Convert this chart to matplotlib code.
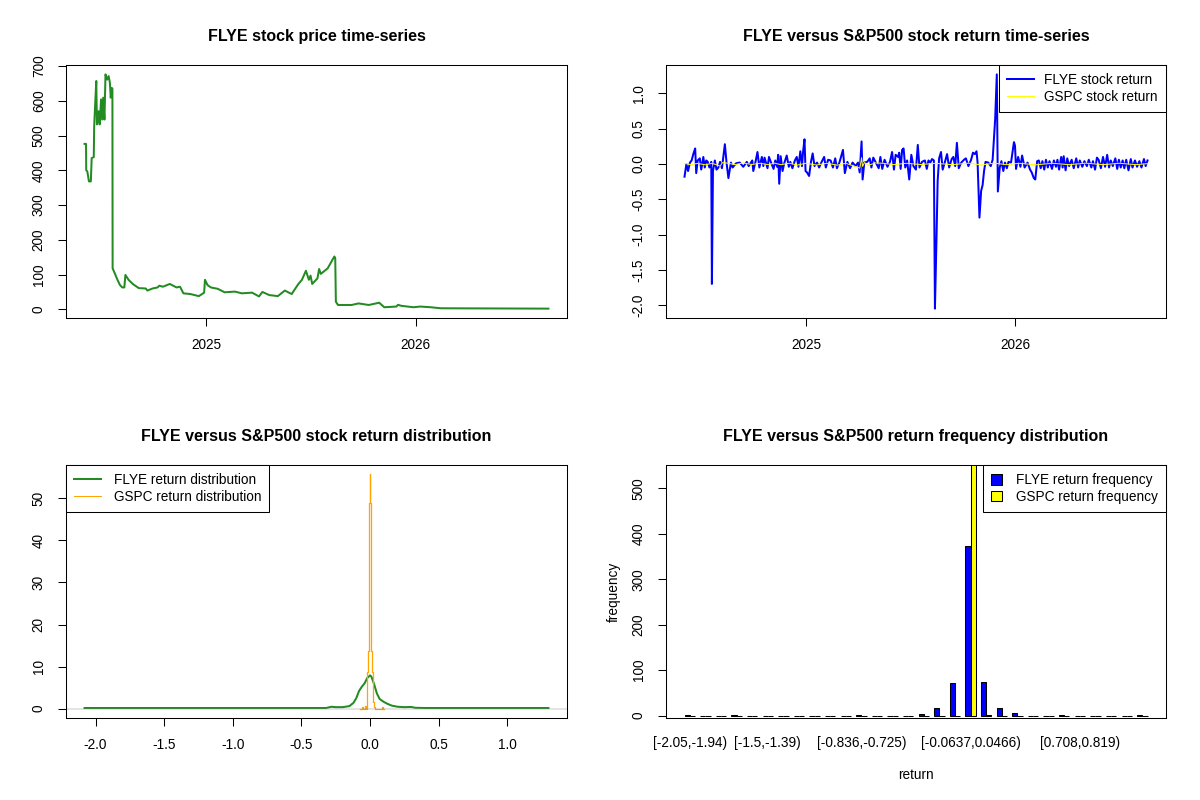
import numpy as np
import matplotlib
matplotlib.use("Agg")
import matplotlib.pyplot as plt
from matplotlib.patches import Patch
from matplotlib.lines import Line2D

plt.rcParams.update({
    "font.family": ["Liberation Sans", "DejaVu Sans"],
    "font.size": 9.8,
    "axes.linewidth": 0.75,
    "axes.unicode_minus": False,
    "xtick.major.size": 6,
    "ytick.major.size": 6,
    "xtick.major.width": 0.75,
    "ytick.major.width": 0.75,
    "xtick.major.pad": 8.5,
    "ytick.major.pad": 8.5,
    "xtick.labelsize": 9.8,
    "ytick.labelsize": 9.8,
})

# ---- FLYE price (decimal year, USD) ----
price_t = [2024.418, 2024.425, 2024.426, 2024.431, 2024.439, 2024.448, 2024.452, 2024.462,
           2024.464, 2024.469, 2024.474, 2024.477, 2024.485, 2024.490, 2024.497, 2024.502,
           2024.507, 2024.513, 2024.518, 2024.526, 2024.533, 2024.539, 2024.543, 2024.548,
           2024.551, 2024.552, 2024.562, 2024.575, 2024.587, 2024.598, 2024.608, 2024.613,
           2024.628, 2024.648, 2024.677, 2024.710, 2024.718, 2024.743, 2024.767, 2024.775,
           2024.792, 2024.825, 2024.857, 2024.874, 2024.890, 2024.923, 2024.964, 2024.989,
           2024.993, 2025.005, 2025.021, 2025.054, 2025.087, 2025.136, 2025.169, 2025.218,
           2025.251, 2025.267, 2025.300, 2025.341, 2025.374, 2025.407, 2025.439, 2025.456,
           2025.475, 2025.489, 2025.497, 2025.505, 2025.530, 2025.538, 2025.546, 2025.579,
           2025.603, 2025.611, 2025.615, 2025.618, 2025.628, 2025.693, 2025.726, 2025.775,
           2025.825, 2025.849, 2025.907, 2025.915, 2025.931, 2025.989, 2026.021, 2026.070,
           2026.120, 2026.633]
price_v = [476, 476, 400, 397, 368, 368, 435, 438,
           527, 594, 657, 532, 570, 532, 604, 546,
           609, 546, 676, 661, 671, 652, 609, 637,
           635, 118, 104, 85, 70, 63, 63, 99,
           85, 73, 61, 60, 54, 60, 63, 68,
           65, 73, 63, 65, 46, 44, 38, 48,
           85, 70, 63, 59, 49, 51, 46, 48,
           37, 50, 41, 38, 54, 44, 73, 85,
           111, 85, 97, 73, 89, 116, 102, 118,
           144, 152, 147, 22, 12.5, 12.5, 17, 12.5,
           19, 6, 8, 13, 10, 6, 8, 6,
           3, 2]

# ---- FLYE daily log returns ----
ret_t = [2024.419, 2024.428, 2024.436, 2024.445, 2024.453, 2024.462, 2024.470, 2024.475,
         2024.482, 2024.492, 2024.499, 2024.509, 2024.516, 2024.523, 2024.530, 2024.538,
         2024.547, 2024.550, 2024.555, 2024.564, 2024.572, 2024.581, 2024.589, 2024.598,
         2024.612, 2024.620, 2024.629, 2024.641, 2024.649, 2024.666, 2024.683, 2024.700,
         2024.717, 2024.726, 2024.743, 2024.748, 2024.760, 2024.768, 2024.777, 2024.789,
         2024.796, 2024.802, 2024.816, 2024.823, 2024.833, 2024.845, 2024.853, 2024.862,
         2024.867, 2024.872, 2024.879, 2024.888, 2024.896, 2024.908, 2024.918, 2024.925,
         2024.935, 2024.947, 2024.956, 2024.964, 2024.973, 2024.981, 2024.986, 2024.993,
         2024.998, 2025.005, 2025.015, 2025.024, 2025.032, 2025.041, 2025.053, 2025.063,
         2025.075, 2025.087, 2025.095, 2025.106, 2025.118, 2025.129, 2025.140, 2025.148,
         2025.160, 2025.177, 2025.186, 2025.198, 2025.211, 2025.223, 2025.237, 2025.249,
         2025.257, 2025.266, 2025.271, 2025.279, 2025.293, 2025.305, 2025.313, 2025.322,
         2025.334, 2025.348, 2025.356, 2025.365, 2025.376, 2025.390, 2025.402, 2025.412,
         2025.421, 2025.429, 2025.441, 2025.446, 2025.453, 2025.460, 2025.467, 2025.475,
         2025.484, 2025.494, 2025.504, 2025.514, 2025.526, 2025.535, 2025.543, 2025.555,
         2025.569, 2025.578, 2025.586, 2025.595, 2025.603, 2025.612, 2025.617, 2025.624,
         2025.630, 2025.637, 2025.646, 2025.654, 2025.664, 2025.675, 2025.685, 2025.697,
         2025.705, 2025.714, 2025.722, 2025.731, 2025.743, 2025.756, 2025.765, 2025.777,
         2025.790, 2025.799, 2025.808, 2025.816, 2025.821, 2025.830, 2025.838, 2025.845,
         2025.852, 2025.859, 2025.872, 2025.884, 2025.893, 2025.905, 2025.913, 2025.918,
         2025.927, 2025.935, 2025.944, 2025.952, 2025.961, 2025.969, 2025.981, 2025.995,
         2026.000, 2026.005, 2026.015, 2026.026, 2026.034, 2026.046, 2026.060, 2026.072,
         2026.080, 2026.090, 2026.097, 2026.106, 2026.114, 2026.123, 2026.131, 2026.140,
         2026.148, 2026.157, 2026.165, 2026.177, 2026.186, 2026.196, 2026.203, 2026.211,
         2026.221, 2026.228, 2026.233, 2026.242, 2026.250, 2026.259, 2026.271, 2026.281,
         2026.293, 2026.302, 2026.310, 2026.322, 2026.332, 2026.344, 2026.353, 2026.365,
         2026.373, 2026.383, 2026.392, 2026.400, 2026.411, 2026.421, 2026.431, 2026.441,
         2026.450, 2026.458, 2026.468, 2026.480, 2026.489, 2026.497, 2026.506, 2026.515,
         2026.523, 2026.532, 2026.543, 2026.554, 2026.562, 2026.574, 2026.584, 2026.595,
         2026.605, 2026.617, 2026.625, 2026.634]
ret_v = [-0.18, 0.00, -0.10, 0.02, 0.05, 0.15, 0.22, -0.13,
         0.05, 0.08, -0.08, 0.10, -0.05, 0.05, 0.03, -0.05,
         0.03, -1.70, -0.10, 0.05, -0.08, -0.05, 0.03, -0.06,
         0.28, 0.02, -0.20, 0.02, -0.05, 0.01, 0.02, -0.04,
         0.03, -0.03, 0.05, -0.10, 0.05, 0.17, -0.05, 0.10,
         -0.03, 0.09, -0.06, 0.10, 0.02, -0.07, 0.05, -0.04,
         0.13, -0.28, 0.11, -0.10, 0.01, 0.12, -0.04, 0.03,
         -0.06, 0.05, 0.10, -0.04, 0.18, -0.03, 0.17, 0.35,
         -0.10, -0.12, -0.17, 0.03, 0.15, -0.03, 0.02, -0.05,
         0.03, 0.10, -0.05, 0.06, 0.05, -0.05, 0.08, -0.06,
         0.02, 0.20, -0.13, 0.03, -0.06, 0.02, -0.03, 0.02,
         -0.12, 0.32, -0.22, 0.02, 0.03, 0.08, -0.05, 0.09,
         0.02, -0.06, 0.10, -0.07, 0.06, -0.04, 0.03, 0.17,
         -0.08, 0.13, 0.10, 0.16, -0.07, 0.20, 0.22, -0.05,
         0.05, -0.22, 0.13, -0.03, -0.08, 0.27, -0.05, 0.03,
         0.05, -0.07, 0.05, 0.02, 0.07, 0.05, -2.05, -1.12,
         -0.24, 0.08, 0.17, -0.08, 0.02, 0.14, -0.05, 0.07,
         0.10, -0.03, 0.30, -0.06, 0.02, 0.06, 0.08, -0.03,
         0.06, 0.16, 0.14, 0.18, 0.02, -0.76, -0.38, -0.30,
         -0.10, 0.03, 0.02, -0.03, 0.06, 0.63, 1.27, -0.39,
         -0.05, 0.04, -0.10, 0.02, -0.06, 0.03, 0.02, 0.31,
         0.26, -0.07, 0.10, -0.04, 0.12, -0.05, 0.02, -0.08,
         -0.12, -0.20, -0.22, 0.04, 0.05, -0.06, 0.04, -0.08,
         0.06, -0.05, 0.04, -0.07, 0.05, -0.04, 0.06, -0.08,
         0.10, -0.05, 0.11, -0.09, 0.08, -0.03, 0.06, -0.06,
         0.08, -0.05, 0.05, -0.04, 0.04, -0.03, 0.06, -0.05,
         0.04, -0.08, 0.09, 0.06, -0.06, 0.10, -0.04, 0.13,
         -0.05, 0.05, -0.03, 0.08, -0.07, 0.06, -0.05, 0.05,
         -0.06, 0.06, -0.09, 0.07, -0.05, 0.05, -0.04, 0.04,
         -0.05, 0.07, -0.03, 0.05]

# ---- S&P500 (GSPC) daily log returns ----
gspc_t = [2024.419, 2024.450, 2024.480, 2024.520, 2024.550, 2024.590, 2024.600, 2024.630,
          2024.660, 2024.700, 2024.740, 2024.780, 2024.820, 2024.850, 2024.880, 2024.920,
          2024.960, 2025.000, 2025.050, 2025.100, 2025.150, 2025.190, 2025.220, 2025.250,
          2025.257, 2025.262, 2025.266, 2025.271, 2025.280, 2025.300, 2025.330, 2025.370,
          2025.420, 2025.480, 2025.550, 2025.620, 2025.700, 2025.780, 2025.840, 2025.900,
          2025.960, 2026.020, 2026.100, 2026.180, 2026.260, 2026.340, 2026.420, 2026.500,
          2026.580, 2026.634]
gspc_v = [0.010, -0.010, 0.008, -0.012, 0.010, -0.030, 0.020, 0.010,
          -0.010, 0.015, -0.008, 0.010, -0.010, 0.012, -0.010, 0.010,
          -0.015, 0.010, -0.015, 0.010, -0.017, 0.010, -0.020, -0.050,
          -0.060, 0.010, 0.090, -0.035, 0.020, -0.020, 0.015, 0.010,
          -0.010, 0.010, -0.008, 0.010, -0.010, 0.012, -0.015, 0.012,
          -0.010, 0.010, -0.012, 0.010, -0.010, 0.012, -0.010, 0.010,
          -0.010, 0.005]

# ---- kernel density of returns ----
flye_dens_x = [-2.08, -0.32, -0.28, -0.25, -0.20, -0.15, -0.12, -0.10, -0.08, -0.06, -0.04,
               -0.02, 0.00, 0.01, 0.03, 0.05, 0.07, 0.10, 0.13, 0.16, 0.20, 0.25, 0.30,
               0.33, 0.40, 1.30]
flye_dens_y = [0.15, 0.15, 0.45, 0.35, 0.35, 0.6, 1.4, 2.5, 4.2, 5.2, 6.0,
               7.3, 7.9, 7.6, 5.8, 3.6, 2.3, 1.6, 1.1, 0.7, 0.45, 0.35, 0.4,
               0.2, 0.15, 0.15]
gspc_dens_x = [-0.075, -0.058, -0.052, -0.035, -0.030, -0.025, -0.021, -0.014, -0.008,
               -0.002, 0.002, 0.008, 0.014, 0.021, 0.027, 0.035, 0.085, 0.092, 0.100]
gspc_dens_y = [0.0, 0.5, 0.0, 0.6, 0.0, 1.5, 8.6, 13.7, 49.0,
               55.7, 49.0, 13.7, 8.6, 1.5, 0.3, 0.0, 0.5, 0.0, 0.0]

# ---- histogram counts (30 bins) ----
flye_counts = [2, 0, 0, 2, 0, 0, 0, 0, 0, 0, 0, 2, 0, 0, 0, 3, 17, 71, 373, 74,
               17, 7, 0, 0, 1, 0, 0, 0, 0, 1]
gspc_counts = [0, 0, 0, 0, 0, 0, 0, 0, 0, 0, 0, 0, 0, 0, 0, 0, 0, 0, 559, 2,
               0, 0, 0, 0, 0, 0, 0, 0, 0, 0]
bin_label_idx = [1, 6, 12, 19, 26]
bin_labels = ["[-2.05,-1.94)", "[-1.5,-1.39)", "[-0.836,-0.725)", "[-0.0637,0.0466)",
              "[0.708,0.819)"]

px = 0.72  # one R pixel in points at 100 dpi
fig = plt.figure(figsize=(12, 8), dpi=100)
ax1 = fig.add_axes([0.055, 0.6025, 0.4175, 0.31625])
ax2 = fig.add_axes([0.555, 0.6025, 0.4167, 0.31625])
ax3 = fig.add_axes([0.055, 0.1025, 0.4175, 0.31625])
ax4 = fig.add_axes([0.555, 0.1025, 0.4167, 0.31625])


def r_style(ax):
    ax.tick_params(top=False, right=False, direction="out")
    ax.tick_params(axis="y", labelrotation=90)
    for lab in ax.get_yticklabels():
        lab.set_va("center")
    for s in ax.spines.values():
        s.set_linewidth(0.75)


def r_legend(ax, handles, labels, loc, **kw):
    opts = dict(borderpad=0.6, labelspacing=0.2, handletextpad=0.75)
    opts.update(kw)
    leg = ax.legend(handles, labels, loc=loc, borderaxespad=0, fancybox=False,
                    framealpha=1, edgecolor="black", fontsize=9.8, **opts)
    leg.get_frame().set_linewidth(0.75)
    return leg


title_kw = dict(fontsize=11.5, fontweight="bold", pad=17)

# top-left: price
ax1.plot(price_t, price_v, color="forestgreen", lw=2 * px)
ax1.margins(x=0.04, y=0.04)
ax1.set_xticks([2025, 2026])
ax1.set_xticklabels(["2025", "2026"])
ax1.set_yticks(range(0, 701, 100))
ax1.set_title("FLYE stock price time-series", **title_kw)
r_style(ax1)

# top-right: returns
ax2.plot(ret_t, ret_v, color="blue", lw=2 * px)
ax2.plot(gspc_t, gspc_v, color="yellow", lw=1 * px)
ax2.margins(x=0.04, y=0.04)
ax2.set_xticks([2025, 2026])
ax2.set_xticklabels(["2025", "2026"])
ax2.set_yticks(np.arange(-2.0, 1.01, 0.5))
ax2.set_yticklabels([f"{v:.1f}" for v in np.arange(-2.0, 1.01, 0.5)])
ax2.set_title("FLYE versus S&P500 stock return time-series", **title_kw)
r_legend(ax2, [Line2D([], [], color="blue", lw=2 * px),
               Line2D([], [], color="yellow", lw=1 * px)],
         ["FLYE stock return", "GSPC stock return"], "upper right", handlelength=2.0)
r_style(ax2)

# bottom-left: densities
ax3.plot(flye_dens_x, flye_dens_y, color="forestgreen", lw=2 * px)
ax3.step(gspc_dens_x, gspc_dens_y, where="post", color="orange", lw=0.9)
ax3.margins(x=0.04, y=0.04)
ax3.axhline(0, color="gray", lw=0.3)
ax3.set_xticks(np.arange(-2.0, 1.01, 0.5))
ax3.set_xticklabels([f"{v:.1f}" for v in np.arange(-2.0, 1.01, 0.5)])
ax3.set_yticks(range(0, 51, 10))
ax3.set_title("FLYE versus S&P500 stock return distribution", **title_kw)
r_legend(ax3, [Line2D([], [], color="forestgreen", lw=2 * px),
               Line2D([], [], color="orange", lw=1 * px)],
         ["FLYE return distribution", "GSPC return distribution"], "upper left",
         handlelength=2.0, handletextpad=0.9)
r_style(ax3)

# bottom-right: grouped frequency bars
n_bins = len(flye_counts)
grp = np.arange(1, n_bins + 1)
ax4.bar(3 * grp - 1.5, flye_counts, width=1, color="blue", edgecolor="black", lw=0.75)
ax4.bar(3 * grp - 0.5, gspc_counts, width=1, color="yellow", edgecolor="black", lw=0.75)
ax4.set_xlim(1 - 0.04 * 89, 3 * n_bins + 0.04 * 89)
ax4.set_ylim(-5, 551)
ax4.set_xticks([3 * i - 1 for i in bin_label_idx])
ax4.set_xticklabels(bin_labels)
ax4.tick_params(axis="x", length=0, pad=13)
ax4.set_yticks(range(0, 501, 100))
ax4.set_xlabel("return", labelpad=13)
ax4.set_ylabel("frequency", labelpad=8)
ax4.set_title("FLYE versus S&P500 return frequency distribution", **title_kw)
r_legend(ax4, [Patch(facecolor="blue", edgecolor="black", lw=0.75),
               Patch(facecolor="yellow", edgecolor="black", lw=0.75)],
         ["FLYE return frequency", "GSPC return frequency"], "upper right",
         handlelength=0.8, handleheight=0.8, handletextpad=1.0)
r_style(ax4)

fig.savefig("out.png", dpi=100)
